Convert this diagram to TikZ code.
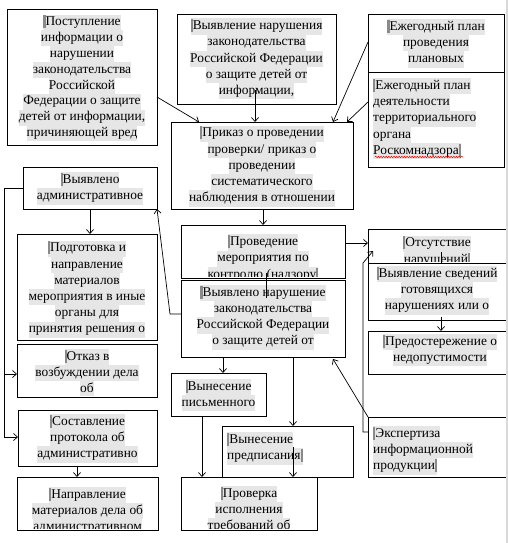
\documentclass[tikz,border=0pt]{standalone}
\usepackage{fontspec}
\setmainfont{Liberation Serif}
\usetikzlibrary{arrows.meta,calc,decorations.pathmorphing}
\definecolor{hlc}{HTML}{E6E6E6}
\definecolor{mkc}{HTML}{8A8A8A}
\setlength\fboxsep{0pt}
\newcommand\hl[1]{\colorbox{hlc}{\strut #1}}
\newcommand\mk{{\color{mkc}\rule[-2.5pt]{2.2pt}{13pt}}}
\newcommand\bx[7]{%
  \node[fill=white, draw=none, inner sep=0pt, outer sep=0pt, anchor=north west,
        minimum width={(#4-#2)*1pt}, minimum height={(#5-#3)*1pt}] (#1) at (#2,#3) {};
  \begin{scope}
    \clip (#1.north west) rectangle ($(#1.south east)+(0,-1.5)$);
    \node[txt, #6] (#1t) {#7};
  \end{scope}
  \draw[boxline] (#1.north west) rectangle (#1.south east);
}
\begin{document}
\begin{tikzpicture}[x=1pt,y=-1pt,
  txt/.style={font=\fontsize{13.4}{16.2}\selectfont, inner sep=0pt, align=center},
  txta/.style={font=\fontsize{13.4}{15.85}\selectfont},
  boxline/.style={draw=black, line width=0.8pt},
  conn/.style={-{Straight Barb[length=4pt,width=7pt]}, line width=0.7pt},
  plain/.style={line width=0.7pt}]
\useasboundingbox (0,0) rectangle (508,543);
\fill[white] (0,0) rectangle (508,543);

\bx{post}{7}{9}{157}{145}{txta, anchor=north, at={(82,14.4)}}{\hl{\mk Поступление}\\ \hl{информации о}\\ \hl{нарушении}\\ \hl{законодательства}\\ \hl{Российской}\\ \hl{Федерации о защите}\\ \hl{детей от информации,}\\ \hl{причиняющей вред}}
\bx{vyav}{177}{14}{336}{104}{anchor=north, at={(256.5,18.2)}}{\hl{\mk Выявление нарушения}\\ \hl{законодательства}\\ \hl{Российской Федерации}\\ \hl{о защите детей от}\\ \hl{информации,}}
\bx{plan1}{368}{14}{504}{72}{anchor=north, at={(436,18.7)}}{\hl{\mk Ежегодный план}\\ \hl{проведения}\\ \hl{плановых}}
\bx{plan2}{368}{72}{504}{167}{anchor=north west, align=left, at={(373,78)}}{\hl{\mk Ежегодный план}\\ \hl{деятельности}\\ \hl{территориального}\\ \hl{органа}\\ \hl{Роскомнадзора\mk}}
\bx{prik}{171}{122}{353}{209}{anchor=north, at={(262,125.4)}}{\hl{\mk Приказ о проведении}\\ \hl{проверки/ приказ о}\\ \hl{проведении}\\ \hl{систематического}\\ \hl{наблюдения в отношении}}
\bx{prov}{181}{225}{345}{278}{anchor=north, at={(263,234.2)}}{\hl{\mk Проведение}\\ \hl{мероприятия по}\\ \hl{контролю (надзору\mk}}
\bx{narush}{181}{280}{345}{357}{anchor=north, at={(263,284.7)}}{\hl{\mk Выявлено нарушение}\\ \hl{законодательства}\\ \hl{Российской Федерации}\\ \hl{о защите детей от}}
\bx{adm}{23}{167}{157}{209}{anchor=north, at={(90,172)}}{\hl{\mk Выявлено}\\ \hl{административное}}
\bx{podg}{17}{234}{157}{340}{anchor=north, at={(87,240.4)}}{\hl{\mk Подготовка и}\\ \hl{направление}\\ \hl{материалов}\\ \hl{мероприятия в иные}\\ \hl{органы для}\\ \hl{принятия решения о}}
\bx{otkaz}{17}{344}{157}{397}{anchor=north, at={(87,348.7)}}{\hl{\mk Отказ в}\\ \hl{возбуждении дела}\\ \hl{об}}
\bx{sost}{18}{410}{157}{466}{anchor=north, at={(87.5,413.7)}}{\hl{\mk Составление}\\ \hl{протокола об}\\ \hl{административно}}
\bx{napr}{17}{477}{158}{530}{anchor=north, at={(87.5,486.5)}}{\hl{\mk Направление}\\ \hl{материалов дела об}\\ \hl{административном}}
\bx{pism}{171}{373}{266}{416}{anchor=north, at={(218.5,378.7)}}{\hl{\mk Вынесение}\\ \hl{письменного}}
\bx{predp}{222}{426}{353}{477}{anchor=north west, align=left, at={(227,432)}}{\hl{\mk Вынесение}\\ \hl{предписания\mk}}
\bx{check}{181}{477}{317}{530}{anchor=north, at={(249,485.5)}}{\hl{\mk Проверка}\\ \hl{исполнения}\\ \hl{требований об}}
\bx{ots}{368}{229}{512}{263}{anchor=north, at={(437,235.4)}}{\hl{\mk Отсутствие}\\ \hl{нарушений\mk}}
\bx{sved}{368}{263}{512}{320}{anchor=north, at={(437,265.7)}}{\hl{\mk Выявление сведений}\\ \hl{готовящихся}\\ \hl{нарушениях или о}}
\bx{predost}{368}{331}{512}{374}{anchor=north, at={(440,333.7)}}{\hl{\mk Предостережение о}\\ \hl{недопустимости}}
\bx{exp}{368}{417}{512}{477}{anchor=north west, align=left, at={(373,425.7)}}{\hl{\mk Экспертиза}\\ \hl{информационной}\\ \hl{продукции\mk}}

% spelling underline
\draw[red, line width=0.5pt, decorate, decoration={snake, amplitude=0.8pt, segment length=2.6pt}] (375,157) -- (463,157);

% page edge
\fill[gray!30] (505.5,0) rectangle (508,543);

% connectors
\coordinate (fg) at (170,314);
\coordinate (lt) at (4,188);
\coordinate (lb) at (4,437);
\coordinate (rl) at (363,432);
\coordinate (ru) at (363,263);
\coordinate (rt) at (373,251);

\draw[conn] (post.east |- 0,97) -- (prik.north -| 199,0);
\draw[conn] ($(vyav.south)+(-1.5,-14)$) -- (prik.north -| 255,0);
\draw[conn] (plan1.west |- 0,42) -- (prik.north -| 333,0);
\draw[conn] (plan2.west |- 0,102) -- (prik.north -| 347,0);
\draw[conn] (prik.south -| 263,0) -- (prov.north -| 263,0);
\draw[conn] (prov.east |- 0,243) -- (ots.west |- 0,243);
\draw[plain] ($(prov.south -| 266,0)+(0,-5)$) -- ($(narush.north -| 266,0)+(0,18)$);
\draw[conn] (narush.south -| 223,0) -- (pism.north -| 223,0);
\draw[conn] (narush.south -| 293,0) -- (predp.north -| 293,0);
\draw[conn] (pism.south -| 202,0) -- (check.north -| 202,0);
\draw[conn] ($(predp.south -| 293,0)+(0,-30)$) -- (check.north -| 293,0);
\draw[conn] (narush.west |- fg) -- (fg) -- (adm.south east);
\draw[conn] (adm.south) -- (podg.north -| adm.south);
\draw[conn] (adm.west |- lt) -- (lt) -- (lb) -- (sost.west |- lb);
\draw[conn] (lt |- 0,374) -- (otkaz.west |- 0,374);
\draw[conn] (sost.south -| 77,0) -- (napr.north -| 77,0);
\draw[plain] ($(ots.south -| 441,0)+(0,-11)$) -- (sved.north -| 441,0);
\draw[conn] ($(sved.south -| 441,0)+(0,-3)$) -- (predost.north -| 441,0);
\draw[conn] (exp.north west) -- ($(narush.south east)+(-12,2)$);
\draw[conn] (exp.west |- rl) -- (rl) -- (ru) -- (rt);
\end{tikzpicture}
\end{document}
